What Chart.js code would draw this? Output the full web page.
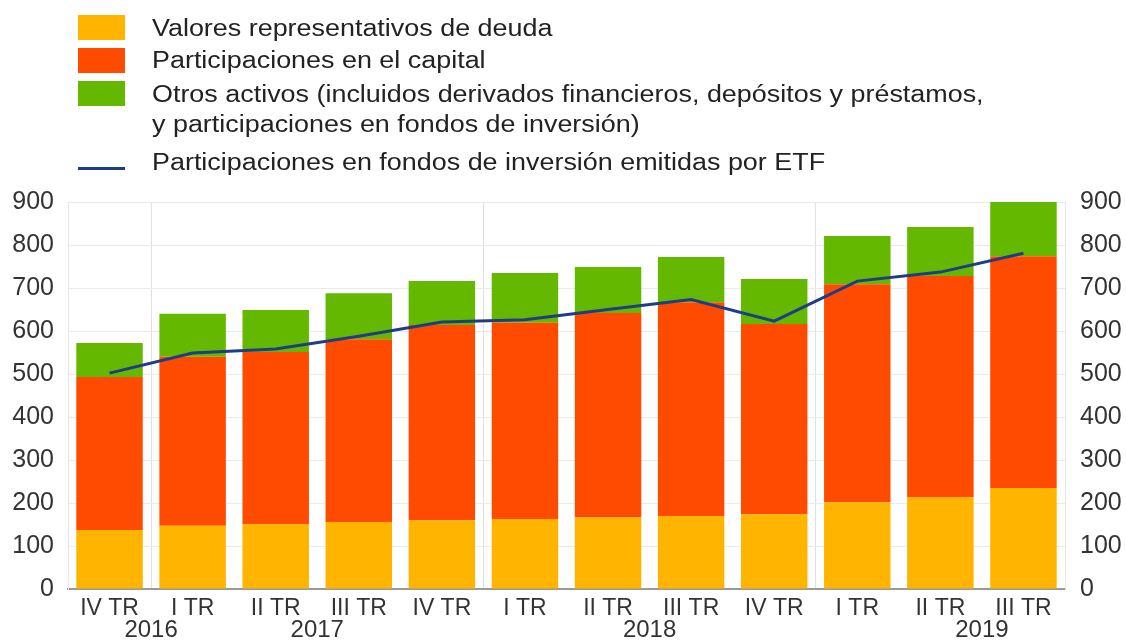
<!DOCTYPE html>
<html>
<head>
<meta charset="utf-8">
<script src="https://cdn.jsdelivr.net/npm/chart.js@4"></script>
<style>
  body { margin: 0; background: #fff; }
  #wrap { position: relative; width: 1126px; height: 641px; font-family: "Liberation Sans", Arial, sans-serif; color: #222; }
  #chart { position: absolute; left: 0; top: 0; }
  .sw { position: absolute; left: 78px; width: 47px; height: 25px; }
  .ln { position: absolute; left: 78px; width: 47px; height: 3px; background: #1f3d87; }
  .lt { position: absolute; left: 152px; font-size: 23px; line-height: 30px; white-space: nowrap; transform: scaleX(1.17); transform-origin: left top; }
</style>
</head>
<body>
<div id="wrap">
  <canvas id="chart" width="1126" height="641"></canvas>
  <div class="sw" style="top:15px;background:#ffb400"></div>
  <div class="lt" style="top:13px">Valores representativos de deuda</div>
  <div class="sw" style="top:48px;background:#ff4b00"></div>
  <div class="lt" style="top:45px">Participaciones en el capital</div>
  <div class="sw" style="top:81px;background:#65b800"></div>
  <div class="lt" style="top:79px">Otros activos (incluidos derivados financieros, depósitos y préstamos,<br>y participaciones en fondos de inversión)</div>
  <div class="ln" style="top:167px"></div>
  <div class="lt" style="top:147px">Participaciones en fondos de inversión emitidas por ETF</div>
</div>
<script>
// quarters and values (EUR bn)
const quarters = ["IV TR", "I TR", "II TR", "III TR", "IV TR", "I TR", "II TR", "III TR", "IV TR", "I TR", "II TR", "III TR"];
const years = ["2016", "2017", "2018", "2019"];
const yearAt = [0.5, 2.5, 6.5, 10.5]; // category position of each year label
const yearBreaks = [1, 5, 9];

const deuda = [137, 147, 151, 156, 160, 163, 166, 170, 174, 202, 214, 235];
const capital = [356, 393, 400, 425, 454, 456, 476, 497, 442, 507, 514, 539];
const otros = [79, 100, 98, 107, 102, 116, 107, 105, 105, 112, 114, 126];
const etf = [502, 549, 558, 588, 621, 626, 650, 673, 623, 716, 737, 781];

const family = "Liberation Sans, Arial, sans-serif";

// year labels under the quarter labels
const yearPlugin = {
    id: "yearLabels",
    afterDraw(chart) {
        const ctx = chart.ctx;
        const x = chart.scales.x;
        ctx.save();
        ctx.font = "24px " + family;
        ctx.fillStyle = "#333";
        ctx.textAlign = "center";
        ctx.textBaseline = "middle";
        years.forEach(function (y, i) {
            ctx.fillText(y, x.getPixelForValue(yearAt[i]), chart.chartArea.bottom + 41);
        });
        ctx.restore();
    },
};

new Chart(document.getElementById("chart"), {
    type: "bar",
    data: {
        labels: quarters,
        datasets: [
            { label: "Valores representativos de deuda", data: deuda, backgroundColor: "#ffb400", order: 1 },
            { label: "Participaciones en el capital", data: capital, backgroundColor: "#ff4b00", order: 1 },
            { label: "Otros activos", data: otros, backgroundColor: "#65b800", order: 1 },
            {
                type: "line",
                label: "Participaciones en fondos de inversión emitidas por ETF",
                data: etf,
                stack: "etf",
                borderColor: "#1f3d87",
                borderWidth: 3,
                pointRadius: 0,
                tension: 0,
                order: 0,
            },
        ],
    },
    options: {
        responsive: false,
        animation: false,
        datasets: { bar: { categoryPercentage: 0.8, barPercentage: 1 } },
        layout: { padding: { top: 202, left: 12, right: 4, bottom: 12 } },
        plugins: { legend: { display: false }, tooltip: { enabled: false } },
        scales: {
            x: {
                stacked: true,
                afterFit: (s) => { s.height = 40; },
                grid: {
                    offset: true,
                    drawTicks: false,
                    color: (c) => (yearBreaks.includes(c.index) ? "#e0e0e0" : "rgba(0,0,0,0)"),
                },
                border: { color: "#999", width: 2 },
                ticks: { font: { family: family, size: 23 }, color: "#333", padding: 6, maxRotation: 0, autoSkip: false },
            },
            y: {
                stacked: true,
                min: 0,
                max: 900,
                afterFit: (s) => { s.width = 56; },
                grid: { color: "#ebebeb", drawTicks: false },
                border: { color: "#e6e6e6" },
                ticks: { stepSize: 100, font: { family: family, size: 25 }, color: "#333", padding: 14 },
            },
            y2: {
                position: "right",
                min: 0,
                max: 900,
                afterFit: (s) => { s.width = 57; },
                grid: { display: false, drawTicks: false },
                border: { color: "#e6e6e6" },
                ticks: { stepSize: 100, font: { family: family, size: 25 }, color: "#333", padding: 15 },
            },
        },
    },
    plugins: [yearPlugin],
});
</script>
</body>
</html>
